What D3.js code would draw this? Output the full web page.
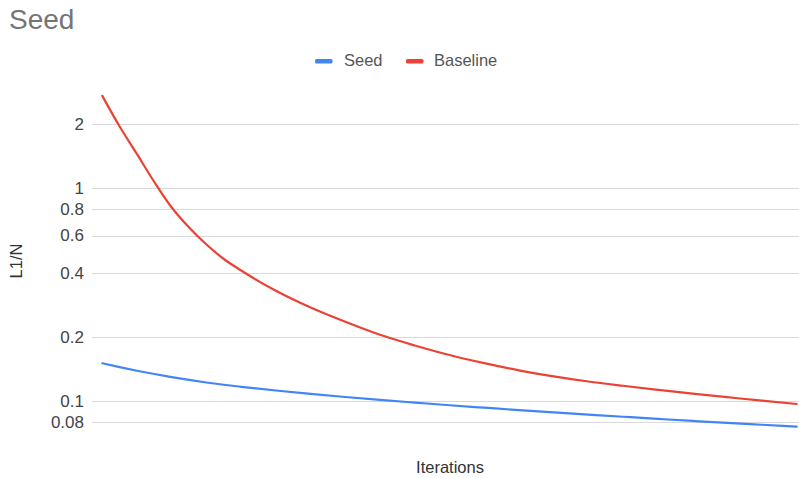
<!DOCTYPE html>
<html>
<head>
<meta charset="utf-8">
<script src="https://cdn.jsdelivr.net/npm/d3@7"></script>
<style>
  html, body { margin: 0; padding: 0; background: #fff; }
  svg { display: block; font-family: "Liberation Sans", Arial, sans-serif; }
</style>
</head>
<body>
<svg id="chart" width="799" height="478"></svg>
<script>
// Sampled iterations (denser where the baseline drops fastest)
const iterations = [0, 50, 100, 150, 200, 250, 300, 350, 400,
  500, 600, 700, 800, 900, 1000, 1100, 1200, 1300, 1400, 1500, 1600, 1700, 1800, 1900, 2000];

// L1/N loss per series
const seedValues = [0.1504, 0.1443, 0.1388, 0.1339, 0.1296, 0.1257, 0.1222, 0.1192, 0.1166,
  0.1120, 0.1080, 0.1044, 0.1012, 0.0983, 0.0955, 0.0930, 0.0906, 0.0884, 0.0863, 0.0843,
  0.0824, 0.0806, 0.0789, 0.0773, 0.0757];
const baselineValues = [2.722, 1.952, 1.447, 1.0706, 0.8124, 0.654, 0.5441, 0.4652, 0.4107,
  0.3298, 0.2751, 0.2357, 0.2047, 0.1824, 0.1645, 0.1506, 0.1394, 0.1306, 0.1235, 0.1179,
  0.1129, 0.1083, 0.1042, 0.1003, 0.0968];

const seriesNames = ["Seed", "Baseline"];
const seriesColors = ["#4285F4", "#EA4335"];

const yTicks = [0.08, 0.1, 0.2, 0.4, 0.6, 0.8, 1, 2];
const yTickLabels = ["0.08", "0.1", "0.2", "0.4", "0.6", "0.8", "1", "2"];

const svg = d3.select("#chart");

const x = d3.scaleLinear()
  .domain([iterations[0], iterations[iterations.length - 1]])
  .range([102.3, 796.7]);

const y = d3.scaleLog()
  .domain([0.08, 2])
  .range([421.6, 124.3]);

// Title
svg.append("text")
  .attr("x", 9).attr("y", 29)
  .attr("font-size", 28)
  .attr("fill", "#757575")
  .text("Seed");

// Gridlines
svg.append("g")
  .selectAll("line")
  .data(yTicks)
  .join("line")
  .attr("x1", 92).attr("x2", 799)
  .attr("y1", d => Math.round(y(d)) + 0.5)
  .attr("y2", d => Math.round(y(d)) + 0.5)
  .attr("stroke", "#d9d9d9")
  .attr("stroke-width", 1.2);

// Y axis labels
const yAxis = d3.axisLeft(y)
  .tickValues(yTicks)
  .tickFormat((d, i) => yTickLabels[i])
  .tickSize(0)
  .tickPadding(0);
const yAxisG = svg.append("g")
  .attr("transform", "translate(84,0)")
  .call(yAxis);
yAxisG.select(".domain").remove();
yAxisG.selectAll("text")
  .attr("font-size", 17)
  .attr("font-family", "'Liberation Sans', Arial, sans-serif")
  .attr("fill", "#444");

// Lines
const line = d3.line()
  .x((d, i) => x(iterations[i]))
  .y(d => y(d))
  .curve(d3.curveMonotoneX);

[seedValues, baselineValues].forEach((vals, k) => {
  svg.append("path")
    .datum(vals)
    .attr("d", line)
    .attr("fill", "none")
    .attr("stroke", seriesColors[k])
    .attr("stroke-width", 2.2)
    .attr("stroke-linejoin", "round")
    .attr("stroke-linecap", "round");
});

// Legend
const legendItems = [
  { name: seriesNames[0], color: seriesColors[0], sx: 315, tx: 344 },
  { name: seriesNames[1], color: seriesColors[1], sx: 406, tx: 434 }
];
const lg = svg.append("g");
legendItems.forEach(it => {
  lg.append("rect")
    .attr("x", it.sx).attr("y", 59)
    .attr("width", 17.5).attr("height", 4.5)
    .attr("rx", 1.5)
    .attr("fill", it.color);
  lg.append("text")
    .attr("x", it.tx).attr("y", 66)
    .attr("font-size", 16.5)
    .attr("fill", "#555")
    .text(it.name);
});

// Axis titles
svg.append("text")
  .attr("x", 450).attr("y", 473)
  .attr("text-anchor", "middle")
  .attr("font-size", 16.5)
  .attr("fill", "#333")
  .text("Iterations");

svg.append("text")
  .attr("transform", "translate(22,261) rotate(-90)")
  .attr("text-anchor", "middle")
  .attr("font-size", 16.5)
  .attr("fill", "#333")
  .text("L1/N");
</script>
</body>
</html>
